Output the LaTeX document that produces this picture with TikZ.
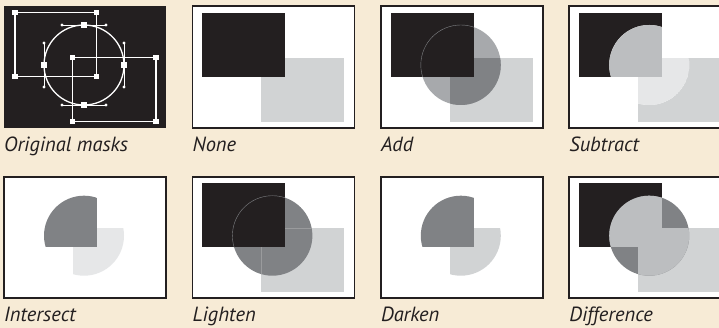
\documentclass[tikz,border=0pt]{standalone}
\usepackage{fontspec}
\setmainfont{PT Sans}
\usepackage{tikz}
\definecolor{fundo}{HTML}{F7EBD6}
\definecolor{preto}{HTML}{231F20}
\definecolor{cinza}{HTML}{D1D3D4}
\definecolor{cinzamedio}{HTML}{A7A9AC}
\definecolor{cinzaescuro}{HTML}{808285}
\definecolor{cinzaclaro}{HTML}{BCBEC0}
\definecolor{quasebranco}{HTML}{E6E7E8}
\newcommand{\retA}{(10,6.7) rectangle (93,70.7)}
\newcommand{\retB}{(69,51.7) rectangle (152,115.7)}
\newcommand{\disco}{(80,59) circle[radius=40pt]}

\begin{document}
\begin{tikzpicture}[x=1pt, y=-1pt,
    moldura/.style={draw=preto, line width=1.7pt},
    rotulo/.style={anchor=base west, inner sep=0pt, text=preto, font=\fontsize{20.5}{24}\selectfont\itshape},
    fio/.style={white, line width=1.3pt},
    alca/.style={white, line width=0.8pt}]
  \fill[fundo] (0,0) rectangle (719,328);
  \useasboundingbox (0,0) rectangle (719,328);
  % original masks
  \begin{scope}[shift={(4,6)}]
    \fill[preto] (0,0) rectangle (162,122);
    \draw[fio] (11,6.7) rectangle (92.7,70.7);
    \draw[fio] (68.7,51.7) rectangle (152,115.7);
    \draw[fio] \disco;
    \draw[alca] (58,19) -- (102,19) (58,99) -- (102,99) (40,37) -- (40,81) (120,37) -- (120,81);
    \foreach \p in {(58,19),(102,19),(58,99),(102,99),(40,37),(40,81),(120,37),(120,81)}
      \fill[white] \p circle[radius=1.7pt];
    \foreach \p in {(11,6.7),(92.7,6.7),(11,70.7),(92.7,70.7),(68.7,51.7),(152,51.7),(68.7,115.7),(152,115.7),(80,19),(80,99),(40,59),(120,59)}
      \fill[white] \p ++(-2.6,-2.6) rectangle ++(5.2,5.2);
  \end{scope}
  \node[rotulo] (original) at (4,151.5) {Original masks};
  % none
  \begin{scope}[shift={(192.4,6)}]
    \fill[white] (0,0) rectangle (162,122);
    \fill[cinza] \retB; \fill[preto] \retA;
    \draw[moldura] (0,0) rectangle (162,122);
  \end{scope}
  \node[rotulo] (none) at (192.4,151.5) {None};
  % add
  \begin{scope}[shift={(380.8,6)}]
    \fill[white] (0,0) rectangle (162,122);
    \fill[cinza] \retB;
    \fill[cinzamedio] \disco;
    \begin{scope} \clip \disco; \fill[cinzaescuro] \retB; \end{scope}
    \fill[preto] \retA;
    \begin{scope} \clip \retA; \draw[cinzaescuro, line width=0.4pt] \disco; \end{scope}
    \draw[moldura] (0,0) rectangle (162,122);
  \end{scope}
  \node[rotulo] (add) at (380.8,151.5) {Add};
  % subtract
  \begin{scope}[shift={(569.2,6)}]
    \fill[white] (0,0) rectangle (162,122);
    \fill[cinza] \retB; \fill[preto] \retA;
    \begin{scope} \clip \disco;
      \fill[white] \disco; \fill[quasebranco] \retB; \fill[cinzaclaro] \retA;
    \end{scope}
    \draw[moldura] (0,0) rectangle (162,122);
  \end{scope}
  \node[rotulo] (subtract) at (569.2,151.5) {Subtract};
  % intersect
  \begin{scope}[shift={(4,176.7)}]
    \fill[white] (0,0) rectangle (162,121);
    \begin{scope} \clip \disco; \fill[quasebranco] \retB; \fill[cinzaescuro] \retA; \end{scope}
    \draw[moldura] (0,0) rectangle (162,121);
  \end{scope}
  \node[rotulo] (intersect) at (4,321) {Intersect};
  % lighten
  \begin{scope}[shift={(192.4,176.7)}]
    \fill[white] (0,0) rectangle (162,121);
    \fill[cinza] \retB;
    \fill[cinzaescuro] \disco;
    \begin{scope} \clip \disco; \draw[cinzaescuro!80!white, line width=0.5pt] \retB; \end{scope}
    \fill[preto] \retA;
    \begin{scope} \clip \retA; \draw[cinzaescuro, line width=0.4pt] \disco; \end{scope}
    \draw[moldura] (0,0) rectangle (162,121);
  \end{scope}
  \node[rotulo] (lighten) at (192.4,321) {Lighten};
  % darken
  \begin{scope}[shift={(380.8,176.7)}]
    \fill[white] (0,0) rectangle (162,121);
    \begin{scope} \clip \disco; \fill[cinza] \retB; \fill[cinzaescuro] \retA; \end{scope}
    \draw[moldura] (0,0) rectangle (162,121);
  \end{scope}
  \node[rotulo] (darken) at (380.8,321) {Darken};
  % difference
  \begin{scope}[shift={(569.2,176.7)}]
    \fill[white] (0,0) rectangle (162,121);
    \fill[cinza] \retB; \fill[preto] \retA;
    \fill[cinzaescuro] \disco;
    \begin{scope} \clip \disco; \fill[cinzaclaro] \retB; \fill[cinzaclaro] \retA; \end{scope}
    \draw[moldura] (0,0) rectangle (162,121);
  \end{scope}
  \node[rotulo] (difference) at (569.2,321) {Difference};
\end{tikzpicture}
\end{document}
